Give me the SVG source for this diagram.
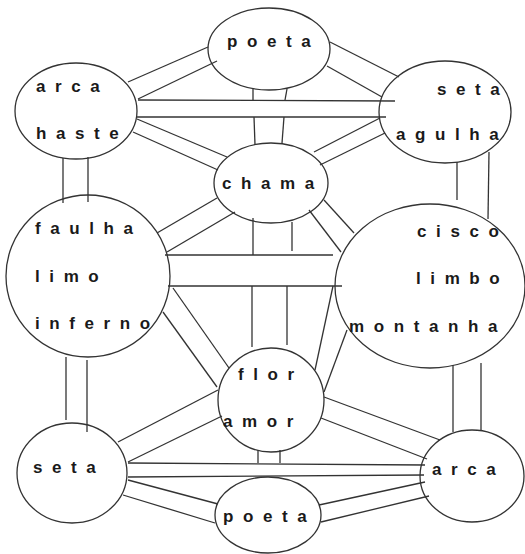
<svg xmlns="http://www.w3.org/2000/svg" width="525" height="554" viewBox="0 0 525 554">
<style>
.n ellipse{fill:none;stroke:#333;stroke-width:1.3}
.n text{font-family:"Liberation Sans",Arial,sans-serif;font-weight:bold;font-size:17px;letter-spacing:9.6px;fill:#1a1a1a}
#connectors line{stroke:#333;stroke-width:1.3}
</style>
<rect width="525" height="554" fill="#fff"/>
<g id="n-poeta-top" class="n"><ellipse cx="269" cy="49" rx="61" ry="41"/><text x="227" y="47">poeta</text></g>
<g id="n-arca-haste" class="n"><ellipse cx="76" cy="111" rx="61" ry="48"/><text x="36" y="92">arca</text><text x="36" y="139">haste</text></g>
<g id="n-seta-agulha" class="n"><ellipse cx="445" cy="112" rx="66" ry="51"/><text x="437" y="95">seta</text><text x="396" y="140">agulha</text></g>
<g id="n-chama" class="n"><ellipse cx="271" cy="183" rx="57" ry="40"/><text x="222" y="189">chama</text></g>
<g id="n-faulha" class="n"><ellipse cx="88" cy="276" rx="82" ry="81"/><text x="35" y="234">faulha</text><text x="35" y="282">limo</text><text x="35" y="329">inferno</text></g>
<g id="n-cisco" class="n"><ellipse cx="430" cy="286" rx="95" ry="82"/><text x="417" y="237">cisco</text><text x="416" y="284">limbo</text><text x="349" y="332">montanha</text></g>
<g id="n-flor" class="n"><ellipse cx="271" cy="400" rx="53" ry="52"/><text x="238" y="380">flor</text><text x="223" y="427">amor</text></g>
<g id="n-seta-bottom" class="n"><ellipse cx="72" cy="473" rx="55" ry="50"/><text x="33" y="473">seta</text></g>
<g id="n-arca-bottom" class="n"><ellipse cx="472" cy="476" rx="52" ry="46"/><text x="432" y="475">arca</text></g>
<g id="n-poeta-bottom" class="n"><ellipse cx="268" cy="515" rx="53" ry="38"/><text x="223" y="522">poeta</text></g>
<g id="connectors">
<line x1="128" y1="82" x2="208" y2="47"/><line x1="138" y1="99" x2="217" y2="61"/>
<line x1="330" y1="42" x2="399" y2="77"/><line x1="327" y1="66" x2="382" y2="97"/>
<line x1="138" y1="100" x2="395" y2="101"/><line x1="137" y1="117" x2="386" y2="117"/>
<line x1="253" y1="88" x2="253" y2="100"/><line x1="254" y1="117" x2="255" y2="145"/>
<line x1="287" y1="89" x2="285" y2="100"/><line x1="284" y1="117" x2="282" y2="143"/>
<line x1="137" y1="119" x2="227" y2="157"/><line x1="133" y1="132" x2="218" y2="170"/>
<line x1="380" y1="118" x2="314" y2="152"/><line x1="385" y1="133" x2="320" y2="165"/>
<line x1="63" y1="158" x2="63" y2="203"/><line x1="88" y1="157" x2="88" y2="202"/>
<line x1="457" y1="162" x2="457" y2="200"/><line x1="489" y1="152" x2="488" y2="219"/>
<line x1="157" y1="233" x2="217" y2="198"/><line x1="167" y1="252" x2="235" y2="212"/>
<line x1="324" y1="200" x2="354" y2="233"/><line x1="309" y1="210" x2="341" y2="252"/>
<line x1="165" y1="255" x2="333" y2="255"/><line x1="168" y1="286" x2="342" y2="286"/>
<line x1="253" y1="218" x2="253" y2="255"/><line x1="252" y1="286" x2="252" y2="347"/>
<line x1="292" y1="222" x2="292" y2="251"/><line x1="287" y1="286" x2="287" y2="345"/>
<line x1="173" y1="288" x2="229" y2="368"/><line x1="163" y1="312" x2="217" y2="387"/>
<line x1="333" y1="286" x2="315" y2="370"/><line x1="347" y1="330" x2="324" y2="392"/>
<line x1="453" y1="365" x2="453" y2="432"/><line x1="481" y1="363" x2="481" y2="430"/>
<line x1="66" y1="357" x2="66" y2="420"/><line x1="87" y1="360" x2="87" y2="432"/>
<line x1="118" y1="442" x2="218" y2="390"/><line x1="128" y1="462" x2="222" y2="416"/>
<line x1="324" y1="397" x2="440" y2="440"/><line x1="321" y1="418" x2="427" y2="459"/>
<line x1="128" y1="463" x2="425" y2="465"/><line x1="128" y1="477" x2="424" y2="475"/>
<line x1="258" y1="450" x2="258" y2="463"/><line x1="280" y1="450" x2="280" y2="463"/>
<line x1="128" y1="480" x2="218" y2="504"/><line x1="123" y1="495" x2="215" y2="523"/>
<line x1="319" y1="505" x2="425" y2="482"/><line x1="321" y1="522" x2="429" y2="496"/>
</g>
</svg>
